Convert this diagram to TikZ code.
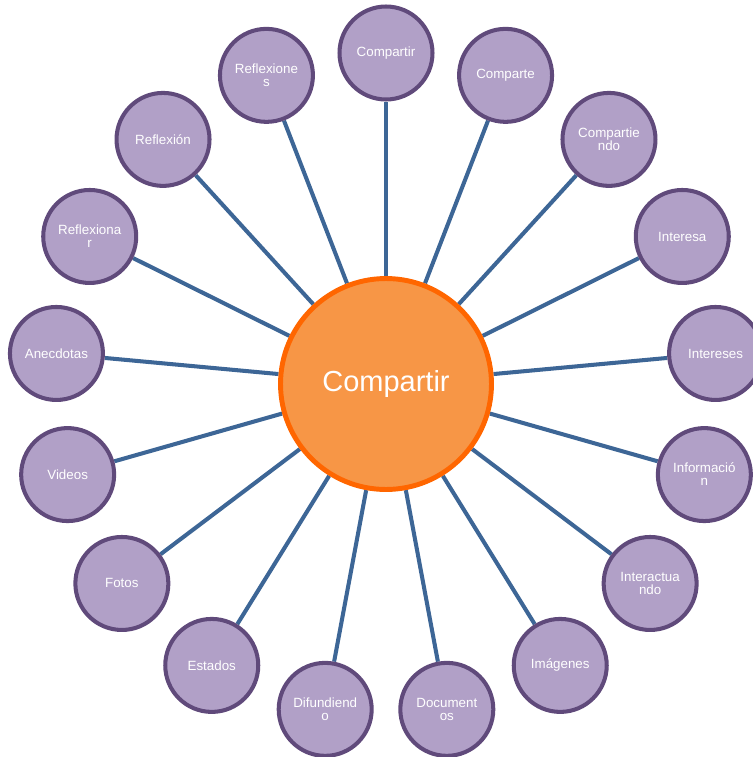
\documentclass[tikz,border=0pt]{standalone}
\usepackage{fontspec}
\setmainfont{Liberation Sans}
\usetikzlibrary{positioning,calc,backgrounds}

\definecolor{hubfill}{HTML}{F79646}
\definecolor{hubline}{HTML}{FF6600}
\definecolor{leaffill}{HTML}{B1A0C7}
\definecolor{leafline}{HTML}{604A7B}
\definecolor{spoke}{HTML}{3D6696}

\tikzset{
  hub/.style={circle,draw=hubline,fill=hubfill,line width=2.8pt,minimum size=4.22cm,inner sep=0pt,
    text=white,font=\fontsize{16.5}{18}\selectfont},
  leaf/.style={circle,draw=leafline,fill=leaffill,line width=2.3pt,minimum size=1.86cm,inner sep=0pt,
    text=white,align=center,font=\fontsize{7.6}{7.4}\selectfont},
  spokeline/.style={draw=spoke,line width=2.3pt}
}

\begin{document}
\begin{tikzpicture}[x=0.02cm,y=-0.02cm]
\useasboundingbox (0,0) rectangle (752,757);

\node[hub] (C) at (386,384) {Compartir};

\foreach \i/\txt in {0/{Compartir},1/{Comparte},2/{Compartie\\ndo},3/{Interesa},4/{Intereses},
  5/{Informació\\n},6/{Interactua\\ndo},7/{Imágenes},8/{Document\\os},9/{Difundiend\\o},
  10/{Estados},11/{Fotos},12/{Videos},13/{Anecdotas},14/{Reflexiona\\r},15/{Reflexión},16/{Reflexione\\s}}{
  \pgfmathsetmacro{\ang}{-90+\i*360/17}
  \node[leaf] (L\i) at ($(C.center)+(\ang:331)$) {\txt};
  % spokes behind the circles
  \begin{scope}[on background layer]
    \draw[spokeline] (C) -- (L\i);
  \end{scope}
}

\end{tikzpicture}
\end{document}
